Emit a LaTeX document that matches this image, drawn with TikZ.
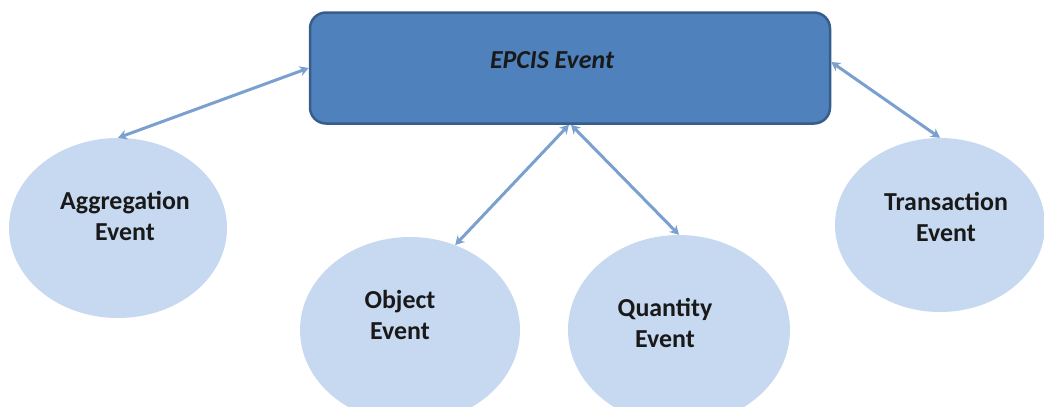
\documentclass[tikz,border=0pt]{standalone}
\usepackage{fontspec}
\setmainfont{Carlito}
\usetikzlibrary{shapes.geometric,arrows.meta}
\definecolor{boxfill}{RGB}{79,129,189}
\definecolor{boxline}{RGB}{56,93,138}
\definecolor{ellfill}{RGB}{198,217,241}
\definecolor{arrowcol}{RGB}{122,160,208}
\tikzset{
  evt/.style={ellipse, fill=ellfill, draw=none, inner sep=0pt},
  lbl/.style={font=\fontsize{26}{32}\selectfont\bfseries, align=center, inner sep=0pt, text=black!90},
  conn/.style={draw=arrowcol, line width=3bp, {Stealth[length=9bp,width=10bp]}-{Stealth[length=9bp,width=10bp]}}
}
\begin{document}
\begin{tikzpicture}[x=1bp,y=-1bp]
\useasboundingbox (0,0) rectangle (1044,406);
\clip (0,0) rectangle (1044,406);
% main box
\node[draw=boxline, line width=2.5bp, fill=boxfill, rounded corners=16bp,
      minimum width=520bp, minimum height=111bp, inner sep=0pt] (epcis) at (570,68) {};
\node[lbl, font=\fontsize{26}{32}\selectfont\bfseries\itshape] (epcist) at (552,60) {EPCIS Event};
% event ellipses
\node[evt, minimum width=218bp, minimum height=180bp] (agg) at (118,228) {};
\node[evt, minimum width=220bp, minimum height=186bp] (obj) at (410,330) {};
\node[evt, minimum width=222bp, minimum height=190bp] (qty) at (679,330) {};
\node[evt, minimum width=210bp, minimum height=174bp] (trn) at (940,225) {};
\node[lbl] (aggt) at (125,216) {Aggregation\\Event};
\node[lbl] (objt) at (400,315) {Object\\Event};
\node[lbl] (qtyt) at (665,323) {Quantity\\Event};
\node[lbl] (trnt) at (946,217) {Transaction\\Event};
% connectors
\draw[conn] (epcis.west) -- (agg.north);
\draw[conn] ([xshift=-1bp]epcis.south) -- (obj.62);
\draw[conn] ([xshift=1bp]epcis.south) -- (qty.north);
\draw[conn] ([yshift=6bp]epcis.east) -- (trn.north);
\end{tikzpicture}
\end{document}
